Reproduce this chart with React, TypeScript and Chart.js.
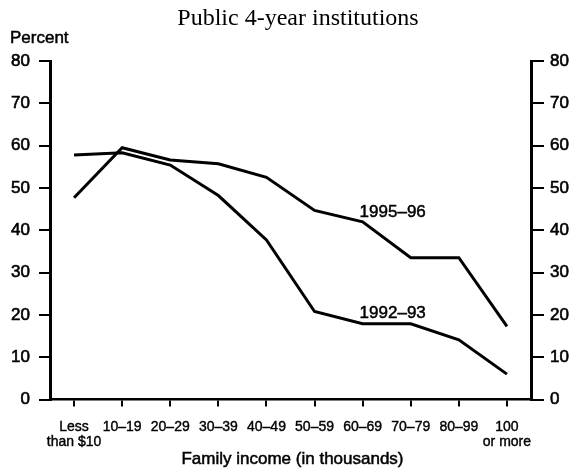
import React, { useEffect, useRef } from "react";
import { Chart, registerables } from "chart.js";

Chart.register(...registerables);

const categories: (string | string[])[] = [
  ["Less", "than $10"],
  "10–19",
  "20–29",
  "30–39",
  "40–49",
  "50–59",
  "60–69",
  "70–79",
  "80–99",
  ["100", "or more"],
];

const series9596 = [47.7, 59.5, 56.6, 55.7, 52.5, 44.7, 42.0, 33.5, 33.5, 17.3];
const series9293 = [57.8, 58.3, 55.4, 48.2, 37.7, 20.8, 17.9, 17.9, 14.1, 6.0];

const chartTitle = "Public 4-year institutions";
const yAxisTitle = "Percent";
const xAxisTitle = "Family income (in thousands)";
const label9596 = "1995–96";
const label9293 = "1992–93";

const SANS = "'Liberation Sans', Arial, Helvetica, sans-serif";
const SERIF = "'Liberation Serif', 'Times New Roman', serif";

function heavyText(ctx: CanvasRenderingContext2D, t: string, x: number, y: number) {
  ctx.fillText(t, x, y);
  ctx.strokeText(t, x, y);
}

const textPlugin = {
  id: "customText",
  afterDraw(chart: any) {
    const ctx = chart.ctx;
    const x = chart.scales.x;
    const y = chart.scales.y;
    ctx.save();
    ctx.fillStyle = "#000";
    ctx.strokeStyle = "#000";
    ctx.lineWidth = 0.5;
    ctx.textBaseline = "alphabetic";
    // Title
    ctx.font = `24px ${SERIF}`;
    ctx.textAlign = "center";
    ctx.fillText(chartTitle, 298, 25);
    // Percent
    ctx.font = `17px ${SANS}`;
    ctx.textAlign = "left";
    heavyText(ctx, yAxisTitle, 10, 43);
    // X title
    ctx.textAlign = "center";
    heavyText(ctx, xAxisTitle, (x.left + x.right) / 2 + 2, 464);
    // Line labels
    ctx.textBaseline = "middle";
    const lx = (x.getPixelForValue(6) + x.getPixelForValue(7)) / 2 + 6;
    heavyText(ctx, label9596, lx, y.getPixelForValue(44.2));
    heavyText(ctx, label9293, lx, y.getPixelForValue(20.4));
    ctx.restore();
  },
};

export default function App() {
  const ref = useRef<HTMLCanvasElement | null>(null);
  useEffect(() => {
    if (!ref.current) return;
    const yTicks = {
      stepSize: 5,
      color: "#000",
      textStrokeColor: "#000",
      textStrokeWidth: 0.6,
      font: { family: SANS, size: 17 },
      callback: (v: any) => (Number(v) % 10 === 0 ? String(v) : ""),
    };
    const chart = new Chart(ref.current, {
      type: "line",
      data: {
        labels: categories as any,
        datasets: [
          {
            label: label9596,
            data: series9596,
            borderColor: "#000",
            borderWidth: 3,
            pointRadius: 0,
            tension: 0,
            fill: false,
            yAxisID: "y",
          },
          {
            label: label9293,
            data: series9293,
            borderColor: "#000",
            borderWidth: 3,
            pointRadius: 0,
            tension: 0,
            fill: false,
            yAxisID: "y",
          },
        ],
      },
      options: {
        responsive: false,
        animation: false,
        layout: { padding: { top: 61, left: 0, right: 0, bottom: 0 } },
        plugins: {
          legend: { display: false },
          tooltip: { enabled: false },
          title: { display: false },
        },
        scales: {
          x: {
            type: "category",
            offset: true,
            border: { display: true, color: "#000", width: 2.5 },
            grid: {
              offset: false,
              drawOnChartArea: false,
              drawTicks: true,
              tickLength: 7,
              color: "#000",
              lineWidth: 2,
            },
            ticks: {
              color: "#000",
              textStrokeColor: "#000",
              textStrokeWidth: 0.4,
              font: { family: SANS, size: 14, lineHeight: 1.08 },
              padding: 13,
              maxRotation: 0,
              minRotation: 0,
              autoSkip: false,
            },
            afterFit: (s: any) => {
              s.height = 72.5;
            },
          },
          y: {
            type: "linear",
            position: "left",
            min: 0,
            max: 80,
            border: { display: true, color: "#000", width: 3 },
            grid: {
              drawOnChartArea: false,
              drawTicks: true,
              tickLength: 11,
              color: "#000",
              lineWidth: 2,
            },
            ticks: { ...yTicks, padding: 9 },
            afterFit: (s: any) => {
              s.width = 50;
            },
          },
          y2: {
            type: "linear",
            position: "right",
            min: 0,
            max: 80,
            border: { display: true, color: "#000", width: 3 },
            grid: {
              drawOnChartArea: false,
              drawTicks: true,
              tickLength: 13,
              color: "#000",
              lineWidth: 2,
            },
            ticks: { ...yTicks, padding: 6 },
            afterFit: (s: any) => {
              s.width = 44;
            },
          },
        },
      },
      plugins: [textPlugin],
    } as any);
    return () => chart.destroy();
  }, []);
  return (
    <div style={{ position: "absolute", left: 0, top: 0, width: 575, height: 472, background: "#fff" }}>
      <canvas ref={ref} width={575} height={472} style={{ display: "block" }} />
    </div>
  );
}
